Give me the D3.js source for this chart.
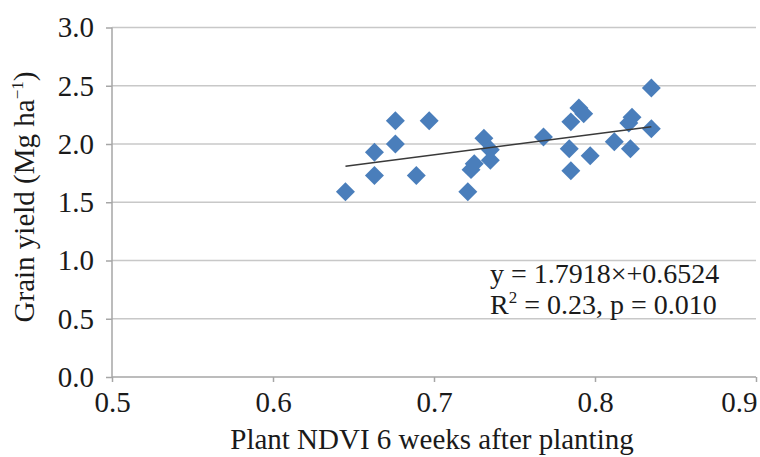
<!DOCTYPE html>
<html>
<head>
<meta charset="utf-8">
<script src="https://cdn.jsdelivr.net/npm/d3@7"></script>
<style>
  body { margin: 0; background: #fff; overflow: hidden; }
  text { font-family: "Liberation Serif", "Times New Roman", serif; fill: #1a1a1a; }
</style>
</head>
<body>
<div id="chart"></div>
<script>
// NDVI vs grain yield
var ndvi = [0.645, 0.663, 0.663, 0.676, 0.676, 0.697, 0.689, 0.721, 0.723, 0.725,
            0.731, 0.735, 0.735, 0.768, 0.835, 0.790, 0.793, 0.785, 0.784, 0.797,
            0.785, 0.812, 0.823, 0.821, 0.822, 0.835];
var grainYield = [1.59, 1.93, 1.73, 2.20, 2.00, 2.20, 1.73, 1.59, 1.78, 1.83,
                  2.05, 1.95, 1.86, 2.06, 2.48, 2.31, 2.26, 2.19, 1.96, 1.90,
                  1.77, 2.02, 2.23, 2.18, 1.96, 2.13];
var slope = 1.7918, intercept = 0.6524;
var xTicks = [0.5, 0.6, 0.7, 0.8, 0.9];
var yTicks = [0.0, 0.5, 1.0, 1.5, 2.0, 2.5, 3.0];

var svg = d3.select("#chart")
    .append("svg")
    .attr("width", 760)
    .attr("height", 457);

var pArea = [112, 27.5, 756, 377];

var x = d3.scaleLinear()
    .domain([0.5, 0.9])
    .range([pArea[0], pArea[2]]);
var y = d3.scaleLinear()
    .domain([0, 3])
    .range([pArea[3], pArea[1]]);

// gridlines
svg.append("g")
  .selectAll("line")
  .data(yTicks.filter(function(d){ return d > 0; }))
  .enter().append("line")
    .attr("x1", pArea[0])
    .attr("x2", pArea[2])
    .attr("y1", function(d){ return y(d); })
    .attr("y2", function(d){ return y(d); })
    .attr("stroke", "#c8c8c8")
    .attr("stroke-width", 1.5);

var g = svg.append("g");
g.append("g")
  .attr("class", "axis axis--y")
  .attr("transform", `translate(${pArea[0]},0)`)
  .call(d3.axisLeft(y).tickValues(yTicks).tickFormat(d3.format(".1f")).tickSize(6).tickPadding(12));

g.append("g")
  .attr("class", "axis axis--x")
  .attr("transform", `translate(0,${pArea[3]})`)
  .call(d3.axisBottom(x).tickValues(xTicks).tickFormat(d3.format(".1f")).tickSize(5).tickPadding(9));

g.selectAll(".domain, .tick line")
  .attr("stroke", "#a6a6a6")
  .attr("stroke-width", 1.5);
g.selectAll(".axis--x .domain").attr("d", `M${pArea[0]},0H${pArea[2]}`);
g.selectAll(".axis--y .domain").attr("d", `M0,${pArea[3]}V${pArea[1]}`);
g.selectAll(".tick text")
  .attr("fill", "#1a1a1a")
  .style("font-family", '"Liberation Serif", serif')
  .style("font-size", "29px");
// last x label sits inside the right edge, as in the source image
g.selectAll(".axis--x .tick text")
  .filter(function(d){ return d === 0.9; })
  .attr("text-anchor", "end")
  .attr("dx", 1);

// points
svg.append("g")
  .selectAll("path")
  .data(ndvi)
  .enter().append("path")
    .attr("d", d3.symbol(d3.symbolSquare, 180))
    .attr("transform", function(d, i){
      return `translate(${x(d)},${y(grainYield[i])}) rotate(45)`;
    })
    .attr("fill", "#4a7ebb");

// trend line
var xr = d3.extent(ndvi);
svg.append("line")
  .attr("x1", x(xr[0]))
  .attr("y1", y(slope * xr[0] + intercept))
  .attr("x2", x(xr[1]))
  .attr("y2", y(slope * xr[1] + intercept))
  .attr("stroke", "#3a3a3a")
  .attr("stroke-width", 1.5);

// equation
svg.append("text")
  .attr("x", 490)
  .attr("y", 283)
  .style("font-size", "28px")
  .text("y = " + slope + "\u00d7+" + intercept);
var t2 = svg.append("text")
  .attr("x", 490)
  .attr("y", 314)
  .style("font-size", "28px");
t2.append("tspan").text("R");
t2.append("tspan").attr("dy", -11).style("font-size", "17px").text("2");
t2.append("tspan").attr("dy", 11).text(" = 0.23, p = 0.010");

// axis titles
svg.append("text")
  .attr("x", 432)
  .attr("y", 449)
  .attr("text-anchor", "middle")
  .style("font-size", "29px")
  .text("Plant NDVI 6 weeks after planting");

var yt = svg.append("text")
  .attr("transform", "translate(34,197) rotate(-90)")
  .attr("text-anchor", "middle")
  .style("font-size", "29px");
yt.append("tspan").text("Grain yield (Mg ha");
yt.append("tspan").attr("dy", -11).style("font-size", "17px").text("\u22121");
yt.append("tspan").attr("dy", 11).text(")");
</script>
</body>
</html>
